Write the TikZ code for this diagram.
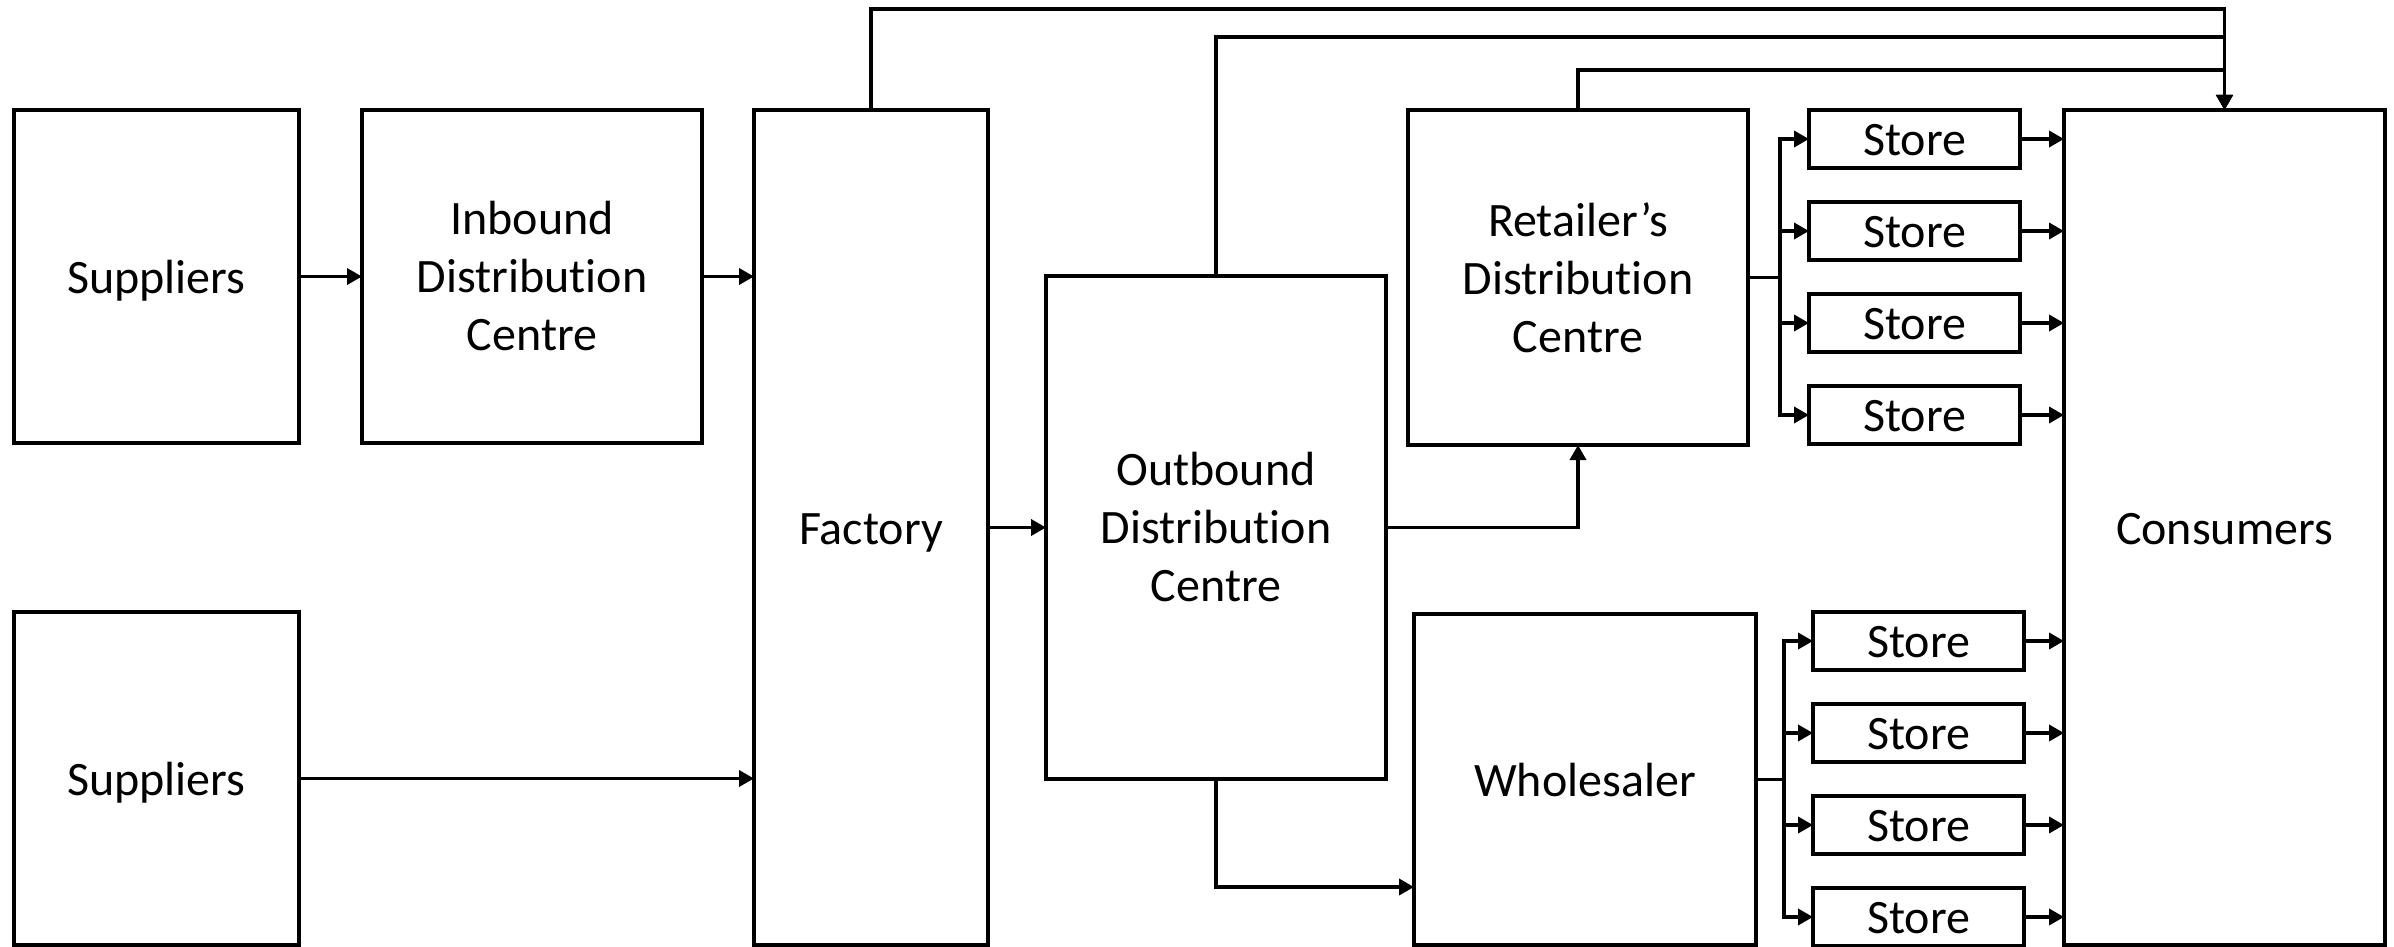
\documentclass[tikz,border=0pt]{standalone}
\usepackage{fontspec}
\setmainfont{Carlito}[Ligatures=NoCommon]
\usetikzlibrary{arrows.meta,positioning}

\begin{document}
\begin{tikzpicture}[
  font=\fontsize{24pt}{29pt}\selectfont,
  box/.style={draw, line width=1.9pt, align=center, inner sep=2pt, outer sep=0pt},
  oneline/.style={box, text height=17.5pt, text depth=1pt},
  store/.style={oneline, minimum width=105.5pt, minimum height=29pt},
  arr/.style={-{Triangle[length=7.5pt, width=8pt]}, line width=1.8pt}
]
\useasboundingbox (0,0) rectangle (1197pt,-473.5pt);

\node[oneline, minimum width=142.5pt, minimum height=166.5pt, anchor=north west] (sup1) at (7pt,-55pt) {Suppliers};
\node[box, minimum width=170pt, minimum height=166.5pt, right=31.5pt of sup1] (inb) {Inbound\\ Distribution\\ Centre};
\node[oneline, minimum width=117pt, minimum height=417.5pt, right=26pt of inb.north east, anchor=north west] (fac) {Factory};
\node[oneline, minimum width=142.5pt, minimum height=166.5pt, below=84.5pt of sup1] (sup2) {Suppliers};
\node[box, minimum width=170pt, minimum height=251.5pt, right=29pt of fac] (out) {Outbound\\ Distribution\\ Centre};
\coordinate (rettop) at (out.east |- fac.north);
\node[box, minimum width=170pt, minimum height=167.5pt, right=11pt of rettop, anchor=north west] (ret) {Retailer’s\\ Distribution\\ Centre};
\node[oneline, minimum width=171pt, minimum height=165.5pt, below=84.5pt of ret.south west, anchor=north west, xshift=3pt] (who) {Wholesaler};

% stores of the retailer
\node[store, right=30.5pt of ret.north east, anchor=north west] (rs1) {Store};
\node[store, below=17pt of rs1] (rs2) {Store};
\node[store, below=17pt of rs2] (rs3) {Store};
\node[store, below=17pt of rs3] (rs4) {Store};
% stores of the wholesaler
\node[store, right=28.5pt of who.north east, anchor=north west, yshift=1pt] (ws1) {Store};
\node[store, below=17pt of ws1] (ws2) {Store};
\node[store, below=17pt of ws2] (ws3) {Store};
\node[store, below=17pt of ws3] (ws4) {Store};

\node[oneline, minimum width=160.5pt, minimum height=417.5pt, right=22pt of rs1.north east, anchor=north west] (con) {Consumers};

\draw[arr] (sup1) -- (inb);
\draw[arr] (inb) -- (inb -| fac.west);
\draw[arr] (sup2) -- (sup2 -| fac.west);
\draw[arr] (fac.east) -- (out.west);
\draw[arr] (out.east) -| (ret.south);
\draw[arr] (out.south) |- ([yshift=-53.75pt]who.west);

% fan out to the stores
\draw[line width=1.8pt] (ret.east) -- ++(16pt,0) coordinate (rfork);
\draw[arr] (rfork) |- (rs1.west);
\draw[arr] (rfork) |- (rs2.west);
\draw[arr] (rfork) |- (rs3.west);
\draw[arr] (rfork) |- (rs4.west);
\draw[line width=1.8pt] (who.east) -- ++(14pt,0) coordinate (wfork);
\draw[arr] (wfork) |- (ws1.west);
\draw[arr] (wfork) |- (ws2.west);
\draw[arr] (wfork) |- (ws3.west);
\draw[arr] (wfork) |- (ws4.west);

\draw[arr] (rs1) -- (rs1 -| con.west);
\draw[arr] (rs2) -- (rs2 -| con.west);
\draw[arr] (rs3) -- (rs3 -| con.west);
\draw[arr] (rs4) -- (rs4 -| con.west);
\draw[arr] (ws1) -- (ws1 -| con.west);
\draw[arr] (ws2) -- (ws2 -| con.west);
\draw[arr] (ws3) -- (ws3 -| con.west);
\draw[arr] (ws4) -- (ws4 -| con.west);

% direct routes over the top to the consumers
\draw[arr] (fac.north) -- ++(0,50.5pt) -| (con.north);
\draw[arr] (out.north) -- ++(0,119.5pt) -| (con.north);
\draw[arr] (ret.north) -- ++(0,20pt) -| (con.north);
\end{tikzpicture}
\end{document}
